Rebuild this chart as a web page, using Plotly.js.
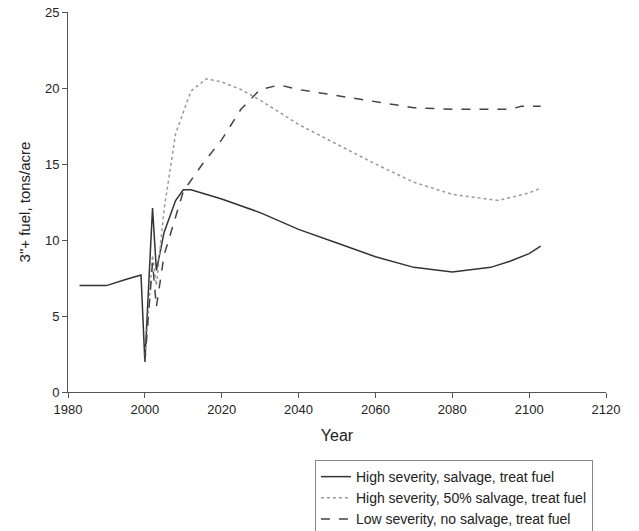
<!DOCTYPE html>
<html><head><script src="https://cdn.plot.ly/plotly-3.0.1.min.js"></script>
<style>body{margin:0;background:#fff}</style></head>
<body><div id="chart" style="width:639px;height:531px"></div>
<script>
const solidX = [1983,1990,1995,1999,2000,2002,2003,2005,2008,2010,2012,2020,2030,2040,2050,2060,2070,2080,2090,2095,2100,2103];
const solidY = [7.0,7.0,7.4,7.7,2.0,12.1,8.0,10.5,12.6,13.3,13.3,12.7,11.8,10.7,9.8,8.9,8.2,7.9,8.2,8.6,9.1,9.6];
const dotX = [2000,2002,2003,2005,2008,2012,2016,2020,2025,2030,2040,2050,2060,2070,2080,2092,2100,2103];
const dotY = [2.0,9.0,7.0,12.0,17.0,19.8,20.6,20.4,19.9,19.2,17.6,16.3,15.0,13.8,13.0,12.6,13.1,13.4];
const dashX = [2000,2002,2003,2005,2010,2015,2020,2025,2030,2035,2040,2050,2060,2070,2080,2095,2098,2103];
const dashY = [2.0,8.5,5.6,9.0,13.2,15.0,16.6,18.6,19.9,20.2,19.9,19.5,19.1,18.7,18.6,18.6,18.8,18.8];
const names = ['High severity, salvage, treat fuel','High severity, 50% salvage, treat fuel','Low severity, no salvage, treat fuel'];

const traces = [
  {x: solidX, y: solidY, name: names[0], mode: 'lines', line: {color: '#333', width: 1.5}},
  {x: dotX, y: dotY, name: names[1], mode: 'lines', line: {color: '#999', width: 1.5, dash: 'dot'}},
  {x: dashX, y: dashY, name: names[2], mode: 'lines', line: {color: '#444', width: 1.5, dash: 'dash'}},
];
const axis = {showgrid: false, zeroline: false, showline: true, linecolor: '#555', ticks: 'outside', ticklen: 5, tickcolor: '#555', tickfont: {size: 13}};
Plotly.newPlot('chart', traces, {
  width: 639, height: 531,
  paper_bgcolor: '#fff', plot_bgcolor: '#fff',
  font: {family: 'Liberation Sans, Arial, sans-serif', size: 13, color: '#222'},
  margin: {l: 68, r: 33, t: 12, b: 139, autoexpand: false},
  showlegend: true,
  legend: {x: 0.459, xanchor: 'left', y: -0.179, yanchor: 'top', bgcolor: '#fff', bordercolor: '#888', borderwidth: 1, font: {size: 14}, tracegroupgap: 0},
  xaxis: Object.assign({}, axis, {range: [1980, 2120], dtick: 20, title: {text: 'Year', font: {size: 16}, standoff: 14}}),
  yaxis: Object.assign({}, axis, {range: [0, 25], dtick: 5, title: {text: '3"+ fuel, tons/acre', font: {size: 15}, standoff: 10}}),
}, {displayModeBar: false});
</script></body></html>
